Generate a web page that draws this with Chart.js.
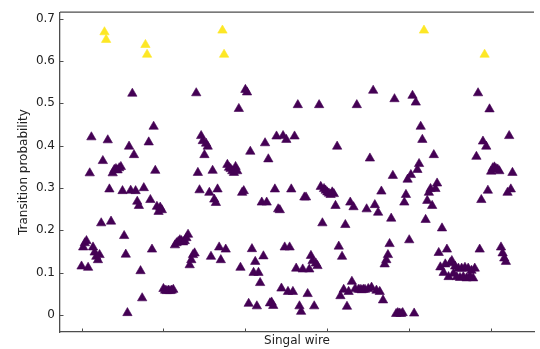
<!DOCTYPE html>
<html>
<head>
<meta charset="utf-8">
<script src="https://cdn.jsdelivr.net/npm/chart.js@4.4.1/dist/chart.umd.min.js"></script>
<style>
  html, body { margin: 0; padding: 0; background: #fff; }
</style>
</head>
<body>
<canvas id="chart" width="540" height="349"></canvas>
<script>
// transition probability per signal wire (wire number = position in the list)
const transitionProb = [
  0.115, 0.16, 0.17, 0.175, 0.112, 0.335, 0.42, 0.16, 0.148, 0.138,
  0.13, 0.142, 0.217, 0.364, 0.668, 0.65, 0.413, 0.297, 0.221, 0.335,
  0.343, 0.345, 0.342, 0.347, 0.35, 0.293, 0.187, 0.143, 0.005, 0.398,
  0.294, 0.523, 0.378, 0.293, 0.268, 0.258, 0.104, 0.04, 0.3, 0.638,
  0.615, 0.408, 0.272, 0.155, 0.445, 0.341, 0.256, 0.244, 0.254, 0.248,
  0.062, 0.058, 0.057, 0.058, 0.057, 0.058, 0.06, 0.165, 0.17, 0.173,
  0.177, 0.175, 0.172, 0.175, 0.182, 0.19, 0.118, 0.13, 0.142, 0.146,
  0.524, 0.336, 0.295, 0.423, 0.411, 0.378, 0.405, 0.398, 0.289, 0.138,
  0.341, 0.273, 0.265, 0.297, 0.16, 0.13, 0.672, 0.615, 0.155, 0.355,
  0.348, 0.345, 0.34, 0.336, 0.35, 0.34, 0.487, 0.112, 0.289, 0.293,
  0.532, 0.526, 0.027, 0.386, 0.156, 0.1, 0.126, 0.021, 0.1, 0.076,
  0.266, 0.139, 0.406, 0.266, 0.368, 0.028, 0.03, 0.022, 0.297, 0.422,
  0.25, 0.248, 0.063, 0.423, 0.16, 0.414, 0.055, 0.16, 0.297, 0.055,
  0.422, 0.11, 0.496, 0.021, 0.008, 0.108, 0.278, 0.278, 0.05, 0.108,
  0.14, 0.128, 0.021, 0.122, 0.116, 0.496, 0.303, 0.217, 0.298, 0.294,
  0.29, 0.287, 0.284, 0.29, 0.286, 0.258, 0.398, 0.162, 0.045, 0.138,
  0.06, 0.213, 0.02, 0.055, 0.266, 0.079, 0.255, 0.062, 0.496, 0.06,
  0.06, 0.059, 0.06, 0.06, 0.25, 0.062, 0.37, 0.065, 0.53, 0.26,
  0.058, 0.242, 0.055, 0.292, 0.035, 0.12, 0.13, 0.142, 0.168, 0.228,
  0.329, 0.51, 0.003, 0.005, 0.004, 0.003, 0.005, 0.266, 0.284, 0.32,
  0.177, 0.331, 0.518, 0.004, 0.502, 0.343, 0.357, 0.445, 0.414, 0.672,
  0.225, 0.27, 0.289, 0.298, 0.258, 0.378, 0.298, 0.311, 0.147, 0.113,
  0.205, 0.1, 0.12, 0.155, 0.09, 0.123, 0.128, 0.098, 0.115, 0.09,
  0.11, 0.088, 0.11, 0.09, 0.112, 0.087, 0.11, 0.092, 0.105, 0.087,
  0.11, 0.374, 0.524, 0.155, 0.272, 0.41, 0.615, 0.398, 0.294, 0.486,
  0.339, 0.347, 0.349, 0.345, 0.344, 0.34, 0.16, 0.146, 0.134, 0.126,
  0.289, 0.423, 0.297, 0.336
];
const yTicks = [0, 0.1, 0.2, 0.3, 0.4, 0.5, 0.6, 0.7];
const xTicks = [0, 50, 100, 150, 200, 250];

const lowColor = '#440154';
const highColor = '#fde725';
const axisColor = '#4d4d4d';
const textColor = '#222';

// matplotlib style: ticks pointing into the axes, plus the top spine
const innerTicks = {
    id: 'innerTicks',
    afterDraw(chart) {
        const { ctx, chartArea, scales } = chart;
        const len = 3.5;
        ctx.save();
        ctx.strokeStyle = axisColor;
        ctx.lineWidth = 1;
        ctx.beginPath();
        scales.x.ticks.forEach(t => {
            const px = Math.round(scales.x.getPixelForValue(t.value)) + 0.5;
            ctx.moveTo(px, chartArea.bottom);
            ctx.lineTo(px, chartArea.bottom - len);
        });
        scales.y.ticks.forEach(t => {
            const py = Math.round(scales.y.getPixelForValue(t.value)) + 0.5;
            ctx.moveTo(chartArea.left, py);
            ctx.lineTo(chartArea.left + len, py);
        });
        ctx.stroke();
        ctx.lineWidth = 1.3;
        ctx.beginPath();
        ctx.moveTo(chartArea.left, chartArea.top);
        ctx.lineTo(chartArea.right, chartArea.top);
        ctx.stroke();
        ctx.restore();
    }
};

const ctx = document.getElementById('chart').getContext('2d');
new Chart(ctx, {
    type: 'scatter',
    data: {
        datasets: [{
            data: transitionProb.map((p, i) => ({ x: i, y: p })),
            pointStyle: 'triangle',
            pointRadius: 5.4,
            borderWidth: 0.6,
            backgroundColor: c => (c.raw && c.raw.y > 0.6 ? highColor : lowColor),
            borderColor: c => (c.raw && c.raw.y > 0.6 ? highColor : lowColor)
        }]
    },
    options: {
        responsive: false,
        animation: false,
        layout: { padding: { top: 12, left: 0, right: 0, bottom: 0 } },
        plugins: {
            legend: { display: false },
            tooltip: { enabled: false }
        },
        scales: {
            x: {
                type: 'linear',
                min: -13.15,
                max: 276.15,
                afterBuildTicks: s => { s.ticks = xTicks.map(v => ({ value: v })); },
                afterFit: s => { s.height = 17; },
                ticks: { display: false },
                grid: { display: false, drawTicks: false },
                border: { display: true, color: axisColor, width: 1.3 },
                title: {
                    display: true,
                    text: 'Singal wire',
                    color: textColor,
                    font: { family: 'DejaVu Sans', size: 12 },
                    padding: { top: 0, bottom: 1 }
                }
            },
            y: {
                type: 'linear',
                min: -0.04,
                max: 0.715,
                afterBuildTicks: s => { s.ticks = yTicks.map(v => ({ value: v })); },
                afterFit: s => { s.width = 60; },
                ticks: {
                    color: textColor,
                    padding: 5,
                    font: { family: 'DejaVu Sans', size: 12 },
                    callback: v => (v === 0 ? '0' : v.toFixed(1))
                },
                grid: { display: false, drawTicks: false },
                border: { display: true, color: axisColor, width: 1.3 },
                title: {
                    display: true,
                    text: 'Transition probability',
                    color: textColor,
                    font: { family: 'DejaVu Sans', size: 12 },
                    padding: { top: 17, bottom: 0 }
                }
            }
        }
    },
    plugins: [innerTicks]
});
</script>
</body>
</html>
